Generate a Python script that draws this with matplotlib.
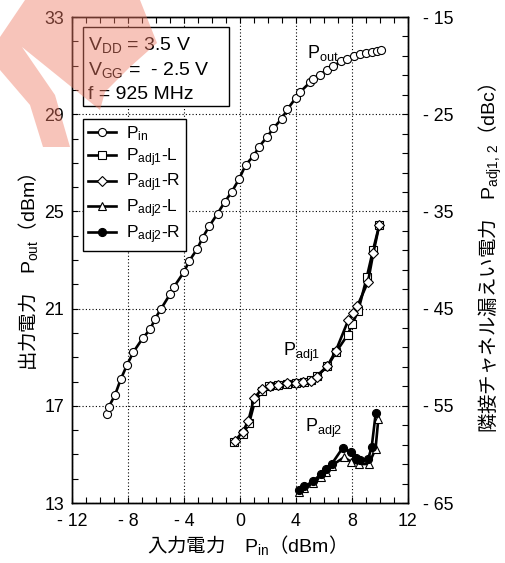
import matplotlib.pyplot as plt
from matplotlib.lines import Line2D
from matplotlib.patches import Polygon, Rectangle
from matplotlib.ticker import FixedLocator, MultipleLocator

plt.rcParams['font.family'] = ['Liberation Sans', 'DejaVu Sans']
plt.rcParams['mathtext.fontset'] = 'custom'
plt.rcParams['mathtext.rm'] = 'Liberation Sans'
plt.rcParams['mathtext.it'] = 'Liberation Sans:italic'
plt.rcParams['mathtext.bf'] = 'Liberation Sans:bold'

JP = 'Noto Sans CJK JP'

# output power vs input power (dBm)
pin = [-9.52, -9.38, -8.93, -8.52, -8.07, -7.62, -6.95, -6.4, -6.07, -5.64,
       -5.0, -4.71, -4.0, -3.62, -3.07, -2.67, -2.19, -1.6, -1.09, -0.59,
       -0.05, 0.41, 0.98, 1.36, 1.91, 2.38, 2.98, 3.38, 4.0, 4.29,
       5.0, 5.19, 5.71, 6.19, 6.67, 7.2, 7.62, 8.14, 8.57, 9.0,
       9.43, 9.81, 10.09]
pout = [16.65, 16.95, 17.44, 18.09, 18.68, 19.21, 19.78, 20.16, 20.58, 20.99,
        21.59, 21.90, 22.51, 22.97, 23.44, 23.92, 24.40, 24.91, 25.39, 25.80,
        26.35, 26.92, 27.29, 27.66, 28.05, 28.42, 28.81, 29.20, 29.68, 29.91,
        30.31, 30.45, 30.63, 30.82, 30.98, 31.17, 31.26, 31.40, 31.48, 31.52,
        31.56, 31.60, 31.64]

# adjacent channel leakage (dBc)
pin_adj1_l = [-0.4, 0.25, 0.65, 1.05, 1.6, 2.1, 2.7, 3.35, 4.0, 4.55,
              5.1, 5.5, 6.25, 6.85, 7.69, 8.02, 8.45, 9.05, 9.5, 9.95]
adj1_l = [-58.7, -57.85, -56.8, -54.6, -53.5, -53.0, -52.9, -52.75, -52.65, -52.6,
          -52.3, -51.9, -50.95, -49.5, -47.7, -46.6, -45.2, -41.8, -39.0, -36.4]
pin_adj1_r = [-0.38, 0.19, 0.6, 1.0, 1.55, 2.14, 2.69, 3.38, 3.98, 4.52,
              5.05, 5.48, 6.24, 6.83, 7.74, 8.1, 8.38, 9.14, 9.52, 9.95]
adj1_r = [-58.62, -57.70, -56.53, -54.23, -53.30, -52.96, -52.86, -52.69, -52.62, -52.55,
          -52.41, -52.0, -50.91, -49.39, -46.17, -45.49, -44.73, -42.26, -39.31, -36.40]
pin_adj2_l = [4.21, 4.6, 5.24, 5.76, 6.12, 6.55, 7.43, 7.93, 8.52, 9.2, 9.68, 9.88]
adj2_l = [-63.9, -63.5, -62.95, -62.3, -61.8, -61.15, -60.3, -60.75, -60.99, -60.99,
          -59.45, -56.35]
pin_adj2_r = [4.21, 4.6, 5.24, 5.76, 6.12, 6.55, 7.35, 7.9, 8.26, 8.6, 9.15, 9.41, 9.7]
adj2_r = [-63.7, -63.3, -62.74, -62.05, -61.53, -60.99, -59.3, -59.8, -60.4, -60.62,
          -60.5, -59.2, -55.7]

x_ticks = [-12, -8, -4, 0, 4, 8, 12]
x_labels = ['- 12', '- 8', '- 4', '0', '4', '8', '12']
y_ticks = [13, 17, 21, 25, 29, 33]
y2_ticks = [-65, -55, -45, -35, -25, -15]
y2_labels = ['- 65', '- 55', '- 45', '- 35', '- 25', '- 15']

W, H = 506, 563
fig = plt.figure(figsize=(W / 100, H / 100), dpi=100)
ax = fig.add_axes([72 / W, 60 / H, 336 / W, 486 / H])
ax2 = ax.twinx()

MS = 5.8
line_kw = dict(color='black', lw=1.9, markersize=MS, markeredgewidth=0.8,
               markeredgecolor='black', clip_on=False)

ax.plot(pin, pout, marker='o', markerfacecolor='white', zorder=3, **line_kw)

ax2.plot(pin_adj1_l, adj1_l, marker='s', markerfacecolor='white', **line_kw)
ax2.plot(pin_adj1_r, adj1_r, marker='D', markerfacecolor='white',
         **{**line_kw, 'markersize': MS - 0.6})
ax2.plot(pin_adj2_l, adj2_l, marker='^', markerfacecolor='white', **line_kw)
ax2.plot(pin_adj2_r, adj2_r, marker='o', markerfacecolor='black', **line_kw)

ax.set_xlim(-12, 12)
ax.set_ylim(13, 33)
ax2.set_ylim(-65, -15)

ax.xaxis.set_major_locator(FixedLocator(x_ticks))
ax.set_xticklabels(x_labels)
ax.xaxis.set_minor_locator(MultipleLocator(1))
ax.yaxis.set_major_locator(FixedLocator(y_ticks))
ax.yaxis.set_minor_locator(MultipleLocator(1))
ax2.yaxis.set_major_locator(FixedLocator(y2_ticks))
ax2.set_yticklabels(y2_labels)
ax2.yaxis.set_minor_locator(MultipleLocator(2, offset=1))

ax.grid(True, which='major', color='black', lw=0.8, linestyle=(0, (1, 2)))
ax.tick_params(which='both', direction='in', top=True, right=False,
               labelsize=12.8, length=4, width=0.8)
ax.tick_params(axis='x', pad=7)
ax.tick_params(axis='y', pad=5.5)
ax2.tick_params(which='both', direction='in', left=False, right=True,
                labelsize=12.8, length=4, width=0.8, pad=10.5)
for a in (ax, ax2):
    for s in a.spines.values():
        s.set_linewidth(1.0)

# curve annotations
ax.text(4.79, 31.31, r'$\mathrm{P_{out}}$', fontsize=13, ha='left', va='baseline')
ax2.text(3.07, -49.88, r'$\mathrm{P_{adj1}}$', fontsize=13, ha='left', va='baseline')
ax2.text(4.64, -57.7, r'$\mathrm{P_{adj2}}$', fontsize=13, ha='left', va='baseline')

# legend
marker_styles = [('o', 'white', MS), ('s', 'white', MS), ('D', 'white', MS - 0.6),
                 ('^', 'white', MS), ('o', 'black', MS)]
handles = [Line2D([], [], color='black', lw=1.9, marker=m, markerfacecolor=fc,
                  markersize=ms, markeredgewidth=0.8)
           for m, fc, ms in marker_styles]
labels = [r'$\mathrm{P_{in}}$', r'$\mathrm{P_{adj1}}$-L', r'$\mathrm{P_{adj1}}$-R',
          r'$\mathrm{P_{adj2}}$-L', r'$\mathrm{P_{adj2}}$-R']
leg = ax2.legend(handles, labels, loc='upper left', bbox_to_anchor=(83 / W, 1 - 119 / H),
                 bbox_transform=fig.transFigure, borderaxespad=0, fontsize=12.5,
                 frameon=True, fancybox=False, framealpha=1, edgecolor='black',
                 handlelength=1.6, handletextpad=0.6, labelspacing=0.18,
                 borderpad=0.3)
leg.get_frame().set_linewidth(1.0)

# axis titles
fig.text(241 / W, 1 - 545 / H, '入力電力　$\\mathrm{P_{in}}$（$\\mathrm{dBm}$）',
         family=JP, fontsize=14, ha='center', va='center')
fig.text(28 / W, 1 - 272 / H, '出力電力　$\\mathrm{P_{out}}$（$\\mathrm{dBm}$）',
         family=JP, fontsize=14, ha='center', va='center', rotation=90)
fig.text(490 / W, 1 - 258 / H, '隣接チャネル漏えい電力　$\\mathrm{P_{adj1,\\,2}}$（$\\mathrm{dBc}$）',
         family=JP, fontsize=14, ha='center', va='center', rotation=90)

# overlay in pixel coordinates: bias condition box and the translucent stamp
over = fig.add_axes([0, 0, 1, 1], zorder=50)
over.set_xlim(0, W)
over.set_ylim(H, 0)
over.axis('off')
over.patch.set_visible(False)

over.add_patch(Rectangle((83, 27), 146, 79, facecolor='white', edgecolor='black',
                         lw=1.0, zorder=1))
cond = [r'$\mathrm{V_{DD}}$ = 3.5 V', r'$\mathrm{V_{GG}}$ =  - 2.5 V', 'f = 925 MHz']
for i, s in enumerate(cond):
    over.text(88, 50 + 24.5 * i, s, fontsize=14, ha='left', va='baseline', zorder=2)

stamp = [(25, 0), (140, 0), (157, 43), (130, 67), (105, 92), (100, 110), (22, 47),
         (55, 95), (70, 147), (43, 147), (30, 105), (0, 70), (0, 37)]
over.add_patch(Polygon(stamp, closed=True, facecolor=(239 / 255, 124 / 255, 102 / 255),
                       edgecolor='none', alpha=0.45, zorder=10))

fig.savefig('out.png', dpi=100)
